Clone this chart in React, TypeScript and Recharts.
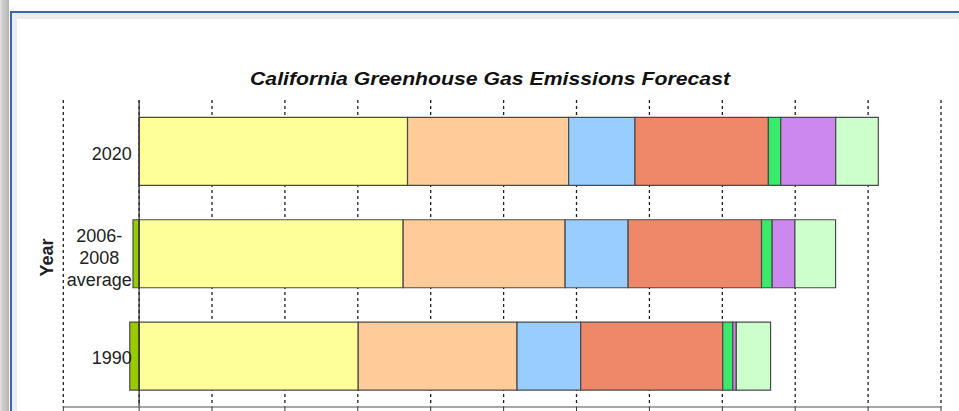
import React from "react";
import { BarChart, Bar, XAxis, YAxis, CartesianGrid, ReferenceLine } from "recharts";

// ---- data (MMT CO2e) ----
const categories = ["2020", "2006-\n2008\naverage", "1990"];
const forestSink = [0, -4.2, -6.4];
const transportation = [184.1, 181.1, 150.3];
const electricity = [110.5, 111.1, 108.9];
const commercialResidential = [45.5, 43.2, 43.7];
const industrial = [91.5, 91.5, 97.4];
const recyclingWaste = [8.5, 7.3, 6.9];
const highGwp = [37.7, 15.6, 2.4];
const agriculture = [29.2, 27.9, 23.5];
const xDomain = [-52, 550];
const xTicks = [-52, 0, 50, 100, 150, 200, 250, 300, 350, 400, 450, 500, 550];

const title = "California Greenhouse Gas Emissions Forecast";
const yTitle = "Year";

const series = [
  { key: "forest", name: "Forestry sink", values: forestSink, color: "#99CC00" },
  { key: "transport", name: "Transportation", values: transportation, color: "#FFFF99" },
  { key: "elec", name: "Electricity", values: electricity, color: "#FFCC99" },
  { key: "comres", name: "Commercial & Residential", values: commercialResidential, color: "#99CCFF" },
  { key: "ind", name: "Industrial", values: industrial, color: "#EF8869" },
  { key: "waste", name: "Recycling & Waste", values: recyclingWaste, color: "#3AEA6A" },
  { key: "gwp", name: "High GWP", values: highGwp, color: "#CC88EE" },
  { key: "ag", name: "Agriculture", values: agriculture, color: "#CCFFCC" },
];

const data = categories.map((cat, i) => {
  const row: Record<string, any> = { cat };
  series.forEach((s) => (row[s.key] = s.values[i]));
  return row;
});

const FONT = "'Liberation Sans', Arial, Helvetica, sans-serif";

const YearTick = (props: any) => {
  const { x, y, payload } = props;
  const lines: string[] = String(payload.value).split("\n");
  const right = x + 68.5;
  if (lines.length === 1) {
    return (
      <text x={right} y={y + 8.5} textAnchor="end" fontSize={18} fill="#222" fontFamily={FONT}>
        {lines[0]}
      </text>
    );
  }
  const cx = right - 32.5;
  const start = -12 - ((lines.length - 3) * 22) / 2;
  return (
    <text textAnchor="middle" fontSize={18} fill="#222" fontFamily={FONT}>
      {lines.map((l, i) => (
        <tspan key={i} x={cx} y={y + start + i * 22}>
          {l}
        </tspan>
      ))}
    </text>
  );
};

const NoTick = () => <g />;

export default function App() {
  return (
    <div
      style={{
        position: "fixed",
        left: 0,
        top: 0,
        width: 959,
        height: 411,
        overflow: "hidden",
        background: "#ffffff",
      }}
    >
      {/* window frame */}
      <div
        style={{
          position: "absolute",
          left: 0,
          top: 0,
          width: 9,
          height: 411,
          background: "linear-gradient(to right, #e2e2e2 0px, #c9c9c9 3px, #c2c2c2 6px, #b3b3b3 9px)",
        }}
      />
      <div style={{ position: "absolute", left: 10, top: 11, width: 949, height: 2, background: "#3B65AD" }} />
      <div style={{ position: "absolute", left: 10, top: 11, width: 2, height: 400, background: "#3B65AD" }} />
      <div style={{ position: "absolute", left: 12, top: 13, width: 947, height: 6, background: "#EBEBEB" }} />
      <div style={{ position: "absolute", left: 12, top: 13, width: 5, height: 398, background: "#EBEBEB" }} />

      <div style={{ position: "absolute", left: 0, top: 0 }}>
        <BarChart
          width={959}
          height={411}
          layout="vertical"
          data={data}
          margin={{ top: 100, right: 18, bottom: 0, left: 0 }}
          stackOffset="sign"
          barCategoryGap="17%"
        >
          <CartesianGrid horizontal={false} stroke="#1e1e1e" strokeWidth={1.3} strokeDasharray="3 3" />
          <XAxis
            type="number"
            domain={xDomain}
            ticks={xTicks}
            interval={0}
            allowDataOverflow
            height={4}
            tickSize={4}
            tick={<NoTick />}
            axisLine={{ stroke: "#8a8a8a", strokeWidth: 1.5 }}
            tickLine={{ stroke: "#333" }}
          />
          <YAxis
            type="category"
            dataKey="cat"
            width={63.3}
            axisLine={false}
            tickLine={false}
            tickSize={0}
            tickMargin={0}
            interval={0}
            tick={<YearTick />}
          />
          {series.map((s) => (
            <Bar
              key={s.key}
              dataKey={s.key}
              name={s.name}
              stackId="total"
              fill={s.color}
              stroke="#4a4a4a"
              strokeWidth={1.2}
              isAnimationActive={false}
            />
          ))}
          <ReferenceLine x={0} stroke="#333" strokeWidth={1.3} />
        </BarChart>
      </div>

      <svg
        width={959}
        height={411}
        style={{ position: "absolute", left: 0, top: 0, pointerEvents: "none" }}
      >
        <text
          x={250}
          y={85}
          fontSize={18}
          fontWeight="bold"
          fontStyle="italic"
          fontFamily={FONT}
          fill="#111"
          textLength={480}
          lengthAdjust="spacingAndGlyphs"
        >
          {title}
        </text>
        <text
          x={53}
          y={257.5}
          transform="rotate(-90 53 257.5)"
          textAnchor="middle"
          fontSize={18}
          fontWeight="bold"
          fontFamily={FONT}
          fill="#222"
        >
          {yTitle}
        </text>
      </svg>
    </div>
  );
}
